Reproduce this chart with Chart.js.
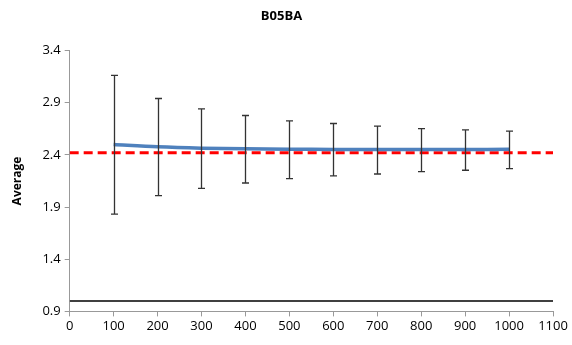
<!DOCTYPE html>
<html>
<head>
<meta charset="utf-8">
<script src="https://cdn.jsdelivr.net/npm/chart.js@4"></script>
<style>
body { margin: 0; background: #fff; }
#wrap { width: 572px; height: 345px; }
</style>
</head>
<body>
<div id="wrap"><canvas id="myChart" width="572" height="345"></canvas></div>
<script>
// sample sizes
var xs = [100, 200, 300, 400, 500, 600, 700, 800, 900, 1000]
// average line
var medias = [2.50, 2.478, 2.465, 2.458, 2.455, 2.452, 2.451, 2.451, 2.452, 2.454]
// error bar ends
var topos = [3.163, 2.941, 2.842, 2.778, 2.727, 2.701, 2.676, 2.653, 2.640, 2.628]
var bases = [1.833, 2.009, 2.080, 2.131, 2.172, 2.200, 2.217, 2.240, 2.253, 2.268]
var linhaVermelha = 2.42
var linhaPreta = 1.0
var yTicks = [0.9, 1.4, 1.9, 2.4, 2.9, 3.4]

var pontos = []
for (var i = 0; i < xs.length; i++) {
    pontos.push({x: xs[i], y: medias[i]})
}

const barrasErro = {
    id: 'barrasErro',
    afterDatasetsDraw(chart) {
        const c = chart.ctx
        const sx = chart.scales.x
        const sy = chart.scales.y
        c.save()
        c.strokeStyle = '#333'
        c.lineWidth = 1.3
        for (var i = 0; i < xs.length; i++) {
            var px = Math.round(sx.getPixelForValue(xs[i])) + 0.5
            var t = sy.getPixelForValue(topos[i])
            var b = sy.getPixelForValue(bases[i])
            c.beginPath()
            c.moveTo(px, t); c.lineTo(px, b)
            c.moveTo(px - 3.5, t); c.lineTo(px + 3.5, t)
            c.moveTo(px - 3.5, b); c.lineTo(px + 3.5, b)
            c.stroke()
        }
        c.restore()
    }
}

const fonte = "'Open Sans', 'Liberation Sans', sans-serif"
const ctx = document.getElementById('myChart')
new Chart(ctx, {
    type: 'line',
    data: {
        datasets: [{
            label: 'Media',
            data: pontos,
            borderColor: '#4f81bd',
            borderWidth: 3.5,
            pointRadius: 0,
            tension: 0.3
        }, {
            label: 'Referencia',
            data: [{x: 0, y: linhaVermelha}, {x: 1100, y: linhaVermelha}],
            borderColor: '#ff0000',
            borderWidth: 3,
            borderDash: [9, 5],
            pointRadius: 0
        }, {
            label: 'Um',
            data: [{x: 0, y: linhaPreta}, {x: 1100, y: linhaPreta}],
            borderColor: '#000',
            borderWidth: 1.5,
            pointRadius: 0
        }]
    },
    options: {
        responsive: false,
        animation: false,
        layout: {padding: {left: 10, right: 19, top: 8, bottom: 9}},
        plugins: {
            legend: {display: false},
            tooltip: {enabled: false},
            title: {
                display: true,
                text: 'B05BA',
                color: '#000',
                font: {family: fonte, size: 13, weight: 'bold'},
                padding: {top: 0, bottom: 27}
            }
        },
        scales: {
            x: {
                type: 'linear',
                min: 0,
                max: 1100,
                grid: {drawOnChartArea: false, drawTicks: true, tickLength: 5, color: '#999'},
                border: {color: '#999', width: 1},
                ticks: {
                    stepSize: 100, color: '#000', font: {family: fonte, size: 13}, padding: 2, maxRotation: 0,
                    callback: function(v) { return String(v) }
                }
            },
            y: {
                min: 0.9,
                max: 3.4,
                afterBuildTicks: function(axis) {
                    axis.ticks = yTicks.map(function(v) { return {value: v} })
                },
                grid: {drawOnChartArea: false, drawTicks: true, tickLength: 5, color: '#999'},
                border: {color: '#999', width: 1},
                ticks: {
                    color: '#000',
                    font: {family: fonte, size: 13},
                    padding: 4,
                    callback: function(v) { return v.toFixed(1) }
                },
                title: {
                    display: true,
                    text: 'Average',
                    color: '#000',
                    font: {family: fonte, size: 12, weight: 'bold'},
                    padding: {top: 0, bottom: 14}
                }
            }
        }
    },
    plugins: [barrasErro]
})
</script>
</body>
</html>
